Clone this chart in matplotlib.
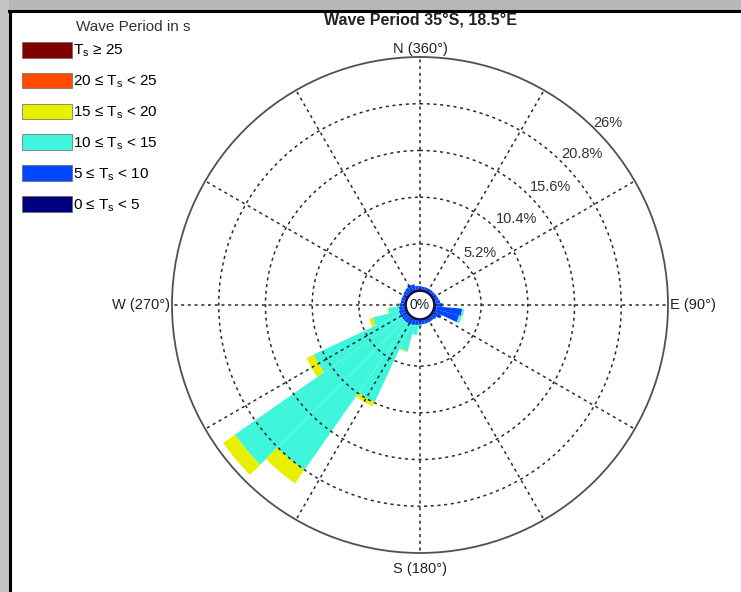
import numpy as np
import matplotlib.pyplot as plt
from matplotlib.patches import Rectangle, Patch
from matplotlib.lines import Line2D

plt.rcParams['font.family'] = ['Liberation Sans', 'DejaVu Sans']

# direction bins (deg, clockwise from north), 10 deg wide
directions = [0, 10, 20, 30, 40, 50, 60, 70, 80, 90, 100, 110,
              120, 130, 140, 150, 160, 170, 180, 190, 200, 210, 220, 230,
              240, 250, 260, 270, 280, 290, 300, 310, 320, 330, 340, 350]

# frequency (%) per period class
t_0_5 = [0.15, 0.15, 0.15, 0.15, 0.15, 0.15, 0.15, 0.15, 0.15, 0.2, 0.25, 0.25,
         0.2, 0.15, 0.15, 0.15, 0.15, 0.15, 0.15, 0.15, 0.15, 0.15, 0.15, 0.15,
         0.15, 0.15, 0.15, 0.15, 0.15, 0.15, 0.15, 0.15, 0.15, 0.2, 0.2, 0.15]
t_5_10 = [0.35, 0.3, 0.3, 0.3, 0.3, 0.3, 0.35, 0.4, 0.5, 0.7, 2.85, 2.65,
          0.8, 0.5, 0.4, 0.4, 0.4, 0.4, 0.45, 0.5, 0.6, 0.7, 0.7, 0.7,
          0.7, 0.7, 0.6, 0.5, 0.4, 0.4, 0.4, 0.5, 0.6, 0.7, 0.6, 0.4]
t_10_15 = [0, 0, 0, 0, 0, 0, 0, 0, 0, 0.1, 0.2, 0.3,
           0.1, 0, 0, 0, 0, 0, 0.3, 1.1, 3.0, 9.5, 20.0, 22.7,
           10.6, 3.0, 1.2, 0.3, 0, 0, 0, 0, 0, 0, 0, 0]
t_15_20 = [0, 0, 0, 0, 0, 0, 0, 0, 0, 0, 0, 0.05,
           0, 0, 0, 0, 0, 0, 0, 0, 0.1, 0.5, 1.8, 1.6,
           0.9, 0.4, 0.1, 0, 0, 0, 0, 0, 0, 0, 0, 0]
t_20_25 = [0] * 36
t_25_up = [0] * 36

classes = [t_0_5, t_5_10, t_10_15, t_15_20, t_20_25, t_25_up]
class_labels = [r'0 ≤ $\mathregular{T_s}$ < 5', r'5 ≤ $\mathregular{T_s}$ < 10',
                r'10 ≤ $\mathregular{T_s}$ < 15', r'15 ≤ $\mathregular{T_s}$ < 20',
                r'20 ≤ $\mathregular{T_s}$ < 25', r'$\mathregular{T_s}$ ≥ 25']
colors = ['#00007f', '#0047ff', '#3ff5dc', '#e8f000', '#ff4a00', '#800000']

ring_values = [5.2, 10.4, 15.6, 20.8, 26]
ring_labels = ['5.2%', '10.4%', '15.6%', '20.8%', '26%']
spoke_angles = [0, 30, 60, 90, 120, 150, 180, 210, 240, 270, 300, 330]
compass = [(0, 'N (360°)'), (90, 'E (90°)'), (180, 'S (180°)'), (270, 'W (270°)')]

fig = plt.figure(figsize=(7.41, 5.92), dpi=100)
fig.patch.set_facecolor('white')

# screenshot frame: grey shadow + black border top/left
fig.add_artist(Rectangle((0, 1 - 10 / 592), 1, 10 / 592, transform=fig.transFigure,
                         facecolor='#b8b8b8', edgecolor='none'))
fig.add_artist(Rectangle((0, 0), 9 / 741, 1, transform=fig.transFigure,
                         facecolor='#c4c4c4', edgecolor='none'))
fig.add_artist(Line2D([9 / 741, 1], [1 - 11 / 592, 1 - 11 / 592], transform=fig.transFigure,
                      color='black', lw=2.2))
fig.add_artist(Line2D([10 / 741, 10 / 741], [0, 1 - 11 / 592], transform=fig.transFigure,
                      color='black', lw=2.2))

rect = [0.2321, 0.0659, 0.6694, 0.8378]


def polar_axes(label):
    a = fig.add_axes(rect, projection='polar', label=label)
    a.set_theta_zero_location('N')
    a.set_theta_direction(-1)
    a.set_ylim(0, 26)
    a.set_rorigin(-1.6)
    a.grid(False)
    a.set_xticks([])
    a.set_yticks([])
    return a


# bottom axes: the stacked bars
ax = polar_axes('bars')
for sp in ax.spines.values():
    sp.set_visible(False)

theta = np.deg2rad(directions)
width = np.deg2rad(10)
bottom = np.zeros(len(directions))
handles = []
for vals, col, lab in zip(classes, colors, class_labels):
    vals = np.array(vals, dtype=float)
    ax.bar(theta, vals, width=width, bottom=bottom, color=col, edgecolor='none',
           linewidth=0)
    bottom += vals
    handles.append(Patch(facecolor=col, edgecolor='#666666', linewidth=0.5, label=lab))

# top transparent axes: dashed grid, circles and labels over the bars
top = polar_axes('grid')
top.patch.set_alpha(0)
grid_kw = dict(color='#2a2a2a', linestyle=(0, (2, 2.4)), linewidth=1.1, zorder=5)
circle_t = np.linspace(0, 2 * np.pi, 361)
for v in ring_values[:-1]:
    top.plot(circle_t, np.full_like(circle_t, v), **grid_kw)
for a in spoke_angles:
    top.plot([np.deg2rad(a)] * 2, [0, 26], **grid_kw)

top.spines['polar'].set_color('#505050')
top.spines['polar'].set_linewidth(1.3)
top.spines['inner'].set_color('#10105a')
top.spines['inner'].set_linewidth(1.8)

label_angles = [49, 48.5, 48, 47, 46]
label_offsets = [2.0, 2.4, 2.4, 2.3, 1.5]
for v, lab, a, off in zip(ring_values, ring_labels, label_angles, label_offsets):
    top.text(np.deg2rad(a), v + off, lab, ha='center', va='center', fontsize=10.5,
             color='#333333')

for ang, lab in compass:
    if ang == 0:
        top.text(0, 26.15, lab, ha='center', va='bottom', fontsize=10.5, color='#222222')
    elif ang == 180:
        top.text(np.pi, 27.0, lab, ha='center', va='top', fontsize=10.5, color='#222222')
    elif ang == 90:
        top.text(np.pi / 2, 26.2, lab, ha='left', va='center', fontsize=10.5, color='#222222')
    else:
        top.text(3 * np.pi / 2, 26.2, lab, ha='right', va='center', fontsize=10.5,
                 color='#222222')

top.text(0.5, 0.5, '0%', transform=top.transAxes, ha='center', va='center',
         fontsize=10, color='#222222')

fig.text(420 / 741, 1 - 21 / 592, 'Wave Period 35°S, 18.5°E', ha='center', va='center',
         fontsize=11.5, fontweight='bold', color='#222222')
fig.text(133 / 741, 1 - 27 / 592, 'Wave Period in s', ha='center', va='center',
         fontsize=11, color='#333333')

fig.legend(handles[::-1], [h.get_label() for h in handles[::-1]], loc='upper left',
           bbox_to_anchor=(22 / 741, 1 - 42 / 592), frameon=False, fontsize=11,
           handlelength=3.25, handleheight=1.2, labelspacing=0.88, handletextpad=0.12,
           borderpad=0, borderaxespad=0)

fig.savefig('out.png', dpi=100)
